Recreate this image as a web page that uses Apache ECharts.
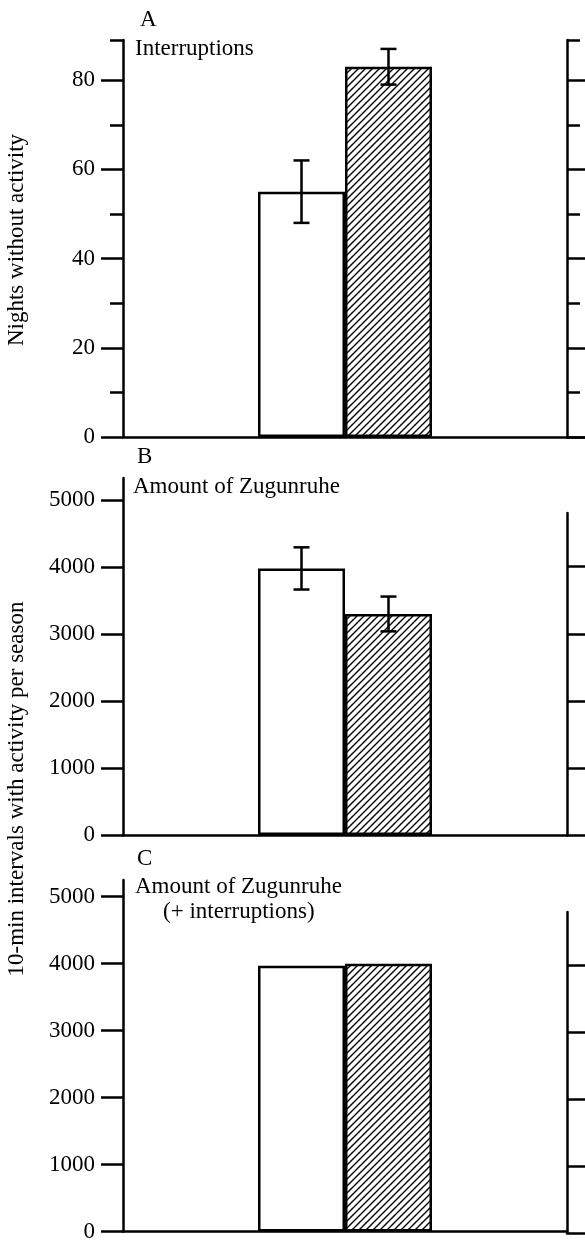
<!DOCTYPE html>
<html>
<head>
<meta charset="utf-8">
<script src="https://cdn.jsdelivr.net/npm/echarts@6/dist/echarts.min.js"></script>
<style>
  html, body { margin: 0; padding: 0; background: #fff; }
  #chart { width: 585px; height: 1243px; }
</style>
</head>
<body>
<div id="chart"></div>
<script>
// ---- data ----
const categories = [''];
const seriesNames = ['control', 'treatment'];
const aValues = [55, 83];
const aErrors = [7, 4];
const bValues = [3980, 3300];
const bErrors = [315, 260];
const cValues = [3970, 4000];

const aMax = 89;
const bMax = 5330;
const cMax = 5250;
const rightMax = 4800;
const aMajorTicks = [0, 20, 40, 60, 80];
const aMinorTicks = [10, 30, 50, 70, 89];
const bcTicks = [0, 1000, 2000, 3000, 4000, 5000];
const rightBCTicks = [1000, 2000, 3000, 4000];

const panelLetters = ['A', 'B', 'C'];
const panelTitles = ['Interruptions', 'Amount of Zugunruhe', 'Amount of Zugunruhe', '(+ interruptions)'];
const yNames = ['Nights without activity', '10-min intervals with activity per season'];

// ---- style ----
const FONT = 'Liberation Serif';
const BAR_W = 87;
const LW = 2.5;

function hatchPattern() {
  const s = 7;
  const c = document.createElement('canvas');
  c.width = s; c.height = s;
  const g = c.getContext('2d');
  g.fillStyle = '#fff';
  g.fillRect(0, 0, s, s);
  g.strokeStyle = '#000';
  g.lineWidth = 1.4;
  g.beginPath();
  g.moveTo(-1, s + 1); g.lineTo(s + 1, -1);
  g.moveTo(-1, 1); g.lineTo(1, -1);
  g.moveTo(s - 1, s + 1); g.lineTo(s + 1, s - 1);
  g.stroke();
  return c;
}
const hatch = { image: hatchPattern(), repeat: 'repeat' };

const grids = [
  { left: 123, top: 40, width: 444, height: 397 },
  { left: 123, top: 478, width: 444, height: 357 },
  { left: 123, top: 880, width: 444, height: 353 },
  { left: 567, top: 40, width: 40, height: 397 },
  { left: 567, top: 513, width: 40, height: 322 },
  { left: 567, top: 912, width: 40, height: 321 }
];

const xAxes = grids.map((g, i) => ({
  type: 'category', gridIndex: i, data: categories,
  axisLine: { show: true, lineStyle: { color: '#000', width: LW } },
  axisTick: { show: false }, axisLabel: { show: false }, splitLine: { show: false }
}));

function yAx(grid, max, ticks, len, opts) {
  opts = opts || {};
  return {
    type: 'value', gridIndex: grid, min: 0, max: max, position: 'left',
    axisLine: { show: !!opts.line, lineStyle: { color: '#000', width: LW } },
    axisTick: { show: true, inside: !!opts.inside, length: len, customValues: ticks,
                lineStyle: { color: '#000', width: LW } },
    axisLabel: opts.labels ? { show: true, customValues: ticks, margin: 28,
                formatter: v => String(v),
                fontFamily: FONT, fontSize: 23, color: '#000' } : { show: false },
    splitLine: { show: false }
  };
}

const yAxes = [
  yAx(0, aMax, aMajorTicks, 22, { line: true, labels: true }),   // 0
  yAx(1, bMax, bcTicks, 22, { line: true, labels: true }),       // 1
  yAx(2, cMax, bcTicks, 22, { line: true, labels: true }),       // 2
  yAx(0, aMax, aMinorTicks, 13),                                  // 3
  yAx(3, aMax, aMajorTicks, 20, { line: true, inside: true }),   // 4
  yAx(3, aMax, aMinorTicks, 13, { inside: true }),                // 5
  yAx(4, rightMax, rightBCTicks, 20, { line: true, inside: true }), // 6
  yAx(5, rightMax, rightBCTicks, 20, { line: true, inside: true })  // 7
];

function bars(panel, values) {
  return values.map((v, i) => ({
    type: 'bar', name: seriesNames[i], xAxisIndex: panel, yAxisIndex: panel,
    data: [v], barWidth: BAR_W, barGap: '0%',
    itemStyle: { color: i === 0 ? '#fff' : hatch, borderColor: '#000', borderWidth: LW },
    silent: true, z: 2
  }));
}

function errorBars(panel, values, errors) {
  return {
    type: 'custom', xAxisIndex: panel, yAxisIndex: panel, z: 5, silent: true,
    data: values.map((v, i) => [0, v, errors[i], i]),
    renderItem: function (params, api) {
      const side = api.value(3) === 0 ? -1 : 1;
      const v = api.value(1), e = api.value(2);
      const top = api.coord([api.value(0), v + e]);
      const bot = api.coord([api.value(0), v - e]);
      const x = top[0] + side * BAR_W / 2;
      const cap = 8;
      const st = { stroke: '#000', lineWidth: LW, fill: null };
      return { type: 'group', children: [
        { type: 'line', shape: { x1: x, y1: top[1], x2: x, y2: bot[1] }, style: st },
        { type: 'line', shape: { x1: x - cap, y1: top[1], x2: x + cap, y2: top[1] }, style: st },
        { type: 'line', shape: { x1: x - cap, y1: bot[1], x2: x + cap, y2: bot[1] }, style: st }
      ]};
    }
  };
}

const txt = { fontFamily: FONT, fontSize: 23, fontWeight: 'normal', color: '#000' };
const titles = [
  { text: panelLetters[0], left: 140, top: 8 },
  { text: panelTitles[0], left: 135, top: 37 },
  { text: panelLetters[1], left: 137, top: 445 },
  { text: panelTitles[1], left: 133, top: 475 },
  { text: panelLetters[2], left: 137, top: 847 },
  { text: panelTitles[2], left: 135, top: 875 },
  { text: panelTitles[3], left: 163, top: 900 }
].map(t => Object.assign({ padding: 0, textStyle: txt }, t));

const option = {
  animation: false,
  backgroundColor: '#fff',
  title: titles,
  grid: grids,
  xAxis: xAxes,
  yAxis: yAxes,
  series: [].concat(
    bars(0, aValues), bars(1, bValues), bars(2, cValues),
    [errorBars(0, aValues, aErrors), errorBars(1, bValues, bErrors)]
  ),
  graphic: [
    { type: 'text', x: 17, y: 240, rotation: Math.PI / 2,
      style: { text: yNames[0], font: '23px "Liberation Serif"', fill: '#000', align: 'center', verticalAlign: 'middle' } },
    { type: 'text', x: 17, y: 789, rotation: Math.PI / 2,
      style: { text: yNames[1], font: '23px "Liberation Serif"', fill: '#000', align: 'center', verticalAlign: 'middle' } }
  ]
};

const chart = echarts.init(document.getElementById('chart'), null, { renderer: 'canvas' });
chart.setOption(option);
</script>
</body>
</html>
